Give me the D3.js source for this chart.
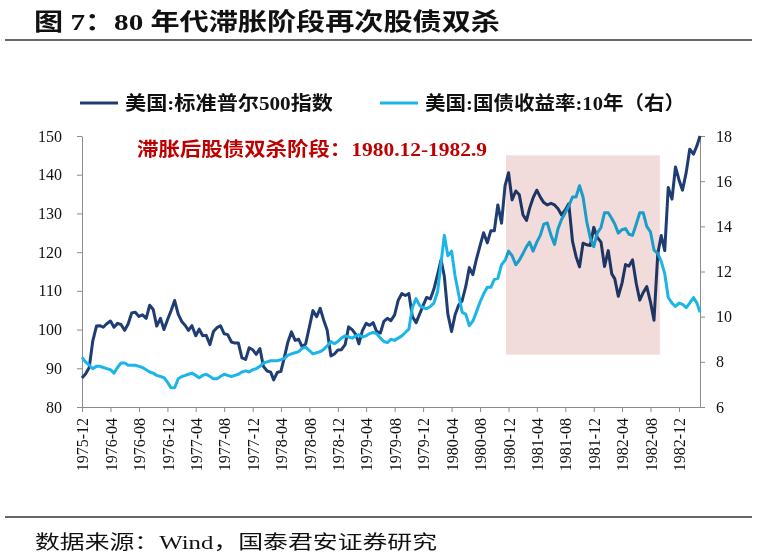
<!DOCTYPE html>
<html><head><meta charset="utf-8">
<script src="https://cdn.jsdelivr.net/npm/d3@7"></script>
<style>body{margin:0;background:#fff;} svg{display:block}</style>
</head><body><svg id="c" width="765" height="559"></svg>
<script>
const titleText = "图 7：80 年代滞胀阶段再次股债双杀";
const sourceText = "数据来源：Wind，国泰君安证券研究";
const annotationText = "滞胀后股债双杀阶段：1980.12-1982.9";
const seriesNames = ["美国:标准普尔500指数", "美国:国债收益率:10年（右）"];
const seriesColors = ["#1f3d73", "#1cb5ea"];
const startMonth = "1975-12";
// two readings per month (1st, 16th), S&P 500 index
const spx = [
 87.5, 88.5,
 90.2, 97.0, 100.9, 101.0, 100.6, 101.5, 102.2, 100.6, 101.6, 101.3, 99.8, 101.5,
 104.3, 104.5, 103.4, 103.8, 102.9, 106.3, 105.2, 100.9, 102.9, 100.0, 102.5, 104.8,
 107.5, 104.0, 102.0, 101.0, 99.8, 101.0, 98.4, 100.1, 98.4, 98.5, 96.1, 99.5,
 100.5, 101.0, 98.9, 98.7, 96.8, 96.5, 96.5, 92.7, 92.3, 95.3, 94.8, 93.6,
 95.1, 90.5, 89.3, 89.0, 87.0, 88.9, 89.2, 92.9, 96.8, 99.4, 97.2, 97.5,
 95.5, 96.3, 100.7, 104.9, 103.3, 105.5, 102.5, 99.9, 93.2, 93.7, 94.7, 94.8,
 96.1, 100.7, 99.9, 98.7, 96.3, 99.7, 101.6, 101.1, 101.8, 99.5, 99.1, 102.1,
 102.9, 102.3, 103.8, 107.5, 109.3, 108.8, 109.3, 103.4, 101.8, 104.0, 106.2, 108.3,
 107.9, 110.4, 114.2, 118.0, 113.7, 104.0, 99.5, 103.8, 106.3, 107.4, 111.2, 116.0,
 114.2, 118.1, 121.7, 125.0, 122.4, 125.5, 125.5, 132.2, 127.5, 137.2, 140.5, 133.5,
 135.8, 134.8, 129.6, 128.2, 131.3, 134.0, 136.0, 134.2, 132.8, 132.2, 132.6, 132.2,
 131.2, 129.6, 130.9, 132.5, 122.8, 118.9, 116.2, 122.3, 121.9, 121.7, 126.4, 123.8,
 122.6, 116.3, 120.4, 114.4, 113.1, 108.6, 112.0, 116.8, 116.4, 118.0, 111.9, 107.6,
 109.6, 111.1, 107.1, 102.4, 119.5, 124.3, 120.4, 136.7, 133.7, 142.0, 138.7, 136.0,
 140.6, 146.6, 145.3, 147.5,
 150.0
];
// US 10-year Treasury yield (%), same dates
const ust10 = [
 8.2, 8.0,
 7.85, 7.7, 7.8, 7.8, 7.75, 7.7, 7.65, 7.5, 7.75, 7.95, 7.95, 7.85,
 7.85, 7.85, 7.8, 7.75, 7.65, 7.55, 7.5, 7.4, 7.35, 7.3, 7.1, 6.85,
 6.85, 7.25, 7.35, 7.4, 7.45, 7.5, 7.4, 7.3, 7.4, 7.45, 7.35, 7.25,
 7.25, 7.35, 7.45, 7.4, 7.35, 7.4, 7.45, 7.55, 7.6, 7.55, 7.65, 7.7,
 7.8, 7.95, 8.0, 8.05, 8.05, 8.05, 8.1, 8.15, 8.3, 8.35, 8.4, 8.45,
 8.6, 8.65, 8.5, 8.35, 8.4, 8.45, 8.55, 8.7, 8.9, 8.8, 8.9, 9.05,
 9.15, 9.1, 9.05, 9.15, 9.2, 9.1, 9.15, 9.25, 9.3, 9.25, 9.05, 8.9,
 8.85, 9.0, 8.95, 9.05, 9.15, 9.3, 9.45, 10.4, 10.8, 10.5, 10.4, 10.35,
 10.45, 10.6, 11.1, 12.4, 13.6, 12.7, 12.9, 11.8, 11.0, 10.2, 10.1, 9.6,
 9.8, 10.2, 10.65, 11.0, 11.3, 11.3, 11.65, 11.7, 12.3, 12.5, 12.9, 12.7,
 12.3, 12.5, 12.8, 13.1, 13.3, 12.9, 13.3, 13.6, 14.1, 14.15, 13.6, 13.2,
 13.9, 14.3, 14.6, 14.9, 15.3, 15.3, 15.8, 15.3, 14.2, 13.5, 13.1, 13.7,
 13.95, 14.6, 14.6, 14.35, 14.1, 13.7, 13.85, 13.9, 13.65, 13.6, 14.1, 14.6,
 14.6, 14.0, 13.75, 12.95, 12.8, 12.45, 11.9, 10.85, 10.6, 10.45, 10.6, 10.55,
 10.4, 10.6, 10.85, 10.6,
 10.2
];
const xTickLabels = ["1975-12","1976-04","1976-08","1976-12","1977-04","1977-08","1977-12",
 "1978-04","1978-08","1978-12","1979-04","1979-08","1979-12","1980-04","1980-08","1980-12",
 "1981-04","1981-08","1981-12","1982-04","1982-08","1982-12"];
const leftTicks = [80, 90, 100, 110, 120, 130, 140, 150];
const rightTicks = [6, 8, 10, 12, 14, 16, 18];
const shadeDates = ["1980-11-20", "1982-09-10"];
const shadeLeftValues = [93.5, 145];

const svg = d3.select("#c");
const serif = "'Liberation Serif','Times New Roman','Noto Sans CJK SC',serif";

const pm = d3.timeParse("%Y-%m");
const pd = d3.timeParse("%Y-%m-%d");
const m0 = pm(startMonth);
const dates = spx.map((v, i) => {
  const d = d3.timeMonth.offset(m0, Math.floor(i / 2));
  return i % 2 ? d3.timeDay.offset(d, 15) : d;
});

const x = d3.scaleTime().domain(d3.extent(dates)).range([82, 700]);
const yL = d3.scaleLinear().domain([80, 150]).range([407, 136]);
const yR = d3.scaleLinear().domain([6, 18]).range([407, 136]);

// title
svg.append("text").attr("x", 34).attr("y", 30)
  .attr("font-family", serif).attr("font-weight", "bold").attr("font-size", 24)
  .attr("textLength", 466).attr("lengthAdjust", "spacingAndGlyphs")
  .attr("fill", "#111").text(titleText);
svg.append("line").attr("x1", 5).attr("x2", 752).attr("y1", 40).attr("y2", 40)
  .attr("stroke", "#333").attr("stroke-width", 1.5);

// legend
const legend = [
  {x1: 80, x2: 118, tx: 125, len: 208},
  {x1: 380, x2: 418, tx: 425, len: 260}
];
legend.forEach((l, i) => {
  svg.append("line").attr("x1", l.x1).attr("x2", l.x2).attr("y1", 103).attr("y2", 103)
    .attr("stroke", seriesColors[i]).attr("stroke-width", 3);
  svg.append("text").attr("x", l.tx).attr("y", 110)
    .attr("font-family", serif).attr("font-weight", "bold").attr("font-size", 19)
    .attr("textLength", l.len).attr("lengthAdjust", "spacingAndGlyphs")
    .attr("fill", "#111").text(seriesNames[i]);
});

// axes
const axisColor = "#8c8c8c";
function styleAxis(g) {
  g.select(".domain").attr("stroke", axisColor);
  g.selectAll(".tick line").attr("stroke", axisColor);
  g.selectAll(".tick text").attr("fill", "#111").attr("font-family", serif).attr("font-size", 16);
}
svg.append("g").attr("transform", "translate(82,0)")
  .call(d3.axisLeft(yL).tickValues(leftTicks).tickSize(5).tickSizeOuter(0).tickPadding(15))
  .call(styleAxis);
svg.append("g").attr("transform", "translate(700,0)")
  .call(d3.axisRight(yR).tickValues(rightTicks).tickSize(5).tickSizeOuter(0).tickPadding(11))
  .call(styleAxis);
const gx = svg.append("g").attr("transform", "translate(0,407)")
  .call(d3.axisBottom(x).tickValues(xTickLabels.map(pm)).tickFormat(d3.timeFormat("%Y-%m"))
    .tickSize(5).tickSizeOuter(0))
  .call(styleAxis);
gx.selectAll(".tick text").attr("text-anchor", "end").attr("transform", "rotate(-90)")
  .attr("x", -11).attr("y", 0).attr("dy", "0.35em");

// lines
const lineL = d3.line().x((d, i) => x(dates[i])).y(d => yL(d));
const lineR = d3.line().x((d, i) => x(dates[i])).y(d => yR(d));
svg.append("path").datum(spx).attr("d", lineL).attr("fill", "none")
  .attr("stroke", seriesColors[0]).attr("stroke-width", 3).attr("stroke-linejoin", "round");
svg.append("path").datum(ust10).attr("d", lineR).attr("fill", "none")
  .attr("stroke", seriesColors[1]).attr("stroke-width", 3).attr("stroke-linejoin", "round");

// shaded stagflation period (tints lines underneath)
const sx0 = x(pd(shadeDates[0])), sx1 = x(pd(shadeDates[1]));
svg.append("rect").attr("x", sx0).attr("width", sx1 - sx0)
  .attr("y", yL(shadeLeftValues[1])).attr("height", yL(shadeLeftValues[0]) - yL(shadeLeftValues[1]))
  .attr("fill", "#f2dcdb").style("mix-blend-mode", "multiply");

// annotation
svg.append("text").attr("x", 137).attr("y", 156)
  .attr("font-family", serif).attr("font-weight", "bold").attr("font-size", 19)
  .attr("textLength", 350).attr("lengthAdjust", "spacingAndGlyphs")
  .attr("fill", "#c00000").text(annotationText);

// source
svg.append("line").attr("x1", 5).attr("x2", 752).attr("y1", 517).attr("y2", 517)
  .attr("stroke", "#333").attr("stroke-width", 1.5);
svg.append("text").attr("x", 35).attr("y", 549)
  .attr("font-family", serif).attr("font-size", 19)
  .attr("textLength", 402).attr("lengthAdjust", "spacingAndGlyphs")
  .attr("fill", "#111").text(sourceText);
</script></body></html>
